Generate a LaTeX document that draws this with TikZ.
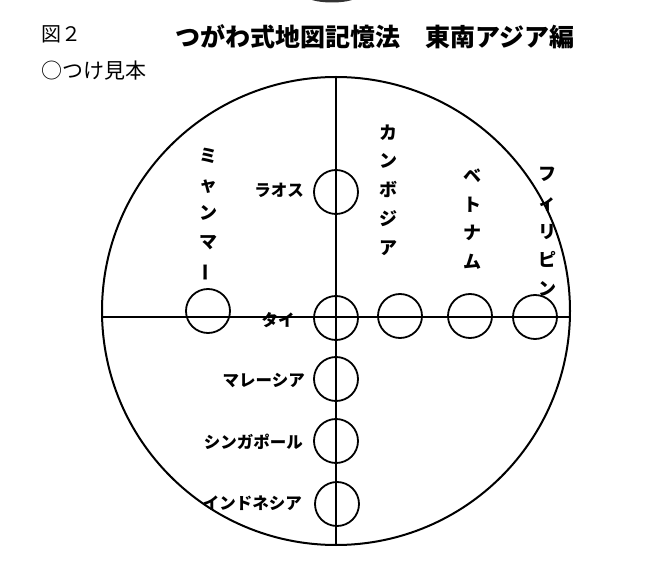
\documentclass[tikz,border=0pt]{standalone}
\usepackage{fontspec}
\newfontfamily\jp{Noto Sans CJK JP}
\begin{document}
\begin{tikzpicture}[x=1pt,y=-1pt,
  pin/.style={draw,circle,line width=1.8pt,minimum size=44pt,inner sep=0pt},
  hlab/.style={font=\jp\bfseries\fontsize{16.5}{19}\selectfont,inner sep=0pt,anchor=east},
  vlab/.style={font=\jp\bfseries\fontsize{18}{28.7}\selectfont,inner sep=0pt,align=center},
  axis/.style={line width=1.6pt},
  rim/.style={line width=2pt}]
\useasboundingbox (0,0) rectangle (649,580);
% dark blob cut at the top edge
\fill[black!80] (332,-5) ellipse [x radius=27pt, y radius=7.5pt];
% titles
\node[font=\jp\fontsize{20}{24}\selectfont,anchor=west,inner sep=0pt] (fig) at (41,34) {図２};
\node[font=\jp\bfseries\fontsize{25}{30}\selectfont,anchor=west,inner sep=0pt] (title) at (175,37) {つがわ式地図記憶法　東南アジア編};
\node[font=\jp\fontsize{21}{25}\selectfont,anchor=west,inner sep=0pt] (sample) at (41,71) {○つけ見本};
% big circle
\node[draw,circle,rim,minimum size=468pt,inner sep=0pt] (big) at (336,311) {};
\coordinate (top) at (336,77);
\coordinate (bot) at (336,545);
\coordinate (lft) at (102,317);
\coordinate (rgt) at (570,317);
\draw[axis] (top) -- (bot);
\draw[axis] (lft) -- (rgt);
% small circles
\node[pin] (laos) at (336,192) {};
\node[pin] (myanc) at (208,311) {};
\node[pin] (taic) at (336,318) {};
\node[pin] (cambc) at (400,316) {};
\node[pin] (vietc) at (470,316) {};
\node[pin] (philc) at (535,317) {};
\node[pin] (malc) at (336,379) {};
\node[pin] (sinc) at (336,441) {};
\node[pin] (indc) at (337,504) {};
% horizontal labels
\node[hlab] (laosl) at (304,190) {ラオス};
\node[hlab,anchor=center] (tail) at (278,320) {タイ};
\node[hlab] (mall) at (305,380) {マレーシア};
\node[hlab] (sinl) at (303,442) {シンガポール};
\node[hlab] (indl) at (302,503) {インドネシア};
% vertical labels
\node[vlab] (myanl) at (208,215) {ミ\\ャ\\ン\\マ\\\rotatebox[origin=c]{90}{ー}};
\node[vlab] (cambl) at (388,190) {カ\\ン\\ボ\\ジ\\ア};
\node[vlab] (vietl) at (472,219) {ベ\\ト\\ナ\\ム};
\node[vlab] (phill) at (547,232) {フ\\ィ\\リ\\ピ\\ン};
\end{tikzpicture}
\end{document}
